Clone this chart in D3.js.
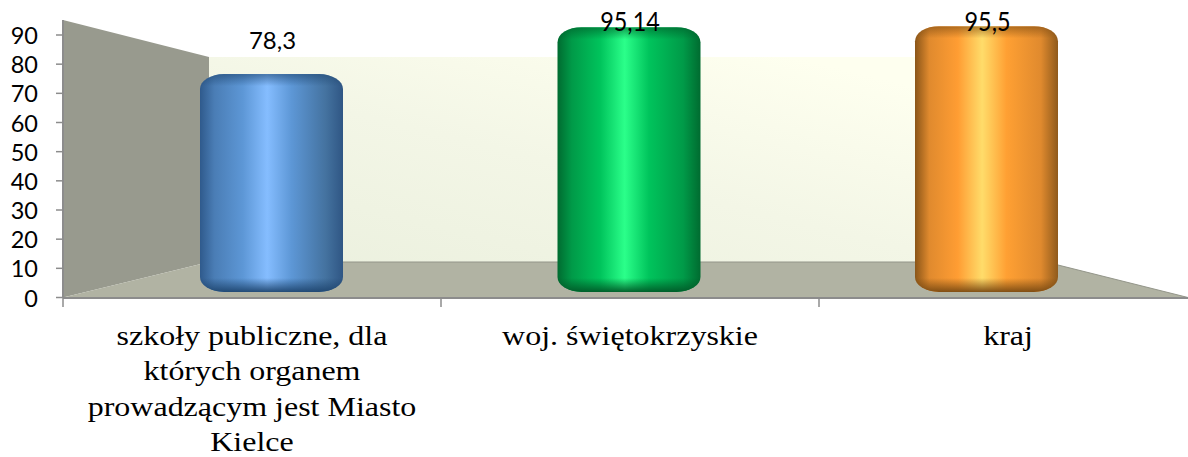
<!DOCTYPE html>
<html><head><meta charset="utf-8">
<script src="https://cdnjs.cloudflare.com/ajax/libs/d3/7.8.5/d3.min.js"></script>
<style>html,body{margin:0;background:#fff}svg{display:block}</style></head>
<body><svg id="c" width="1188" height="457"></svg>
<script>
const categories=[["szkoły publiczne, dla","których organem","prowadzącym jest Miasto","Kielce"],["woj. świętokrzyskie"],["kraj"]];
const values=[78.3,95.14,95.5];
const valueLabels=["78,3","95,14","95,5"];
const yTicks=[0,10,20,30,40,50,60,70,80,90];
const palettes=[
 ["#2f5a8c","#4a7db5","#5d97d6","#85bdff","#5d97d6","#44729f","#2f5684"],
 ["#006b30","#009a48","#00c45c","#2bff8a","#00c45c","#009a48","#006b30"],
 ["#8a5518","#e08a2e","#ff9d33","#ffdc6a","#ffa033","#e08a2e","#8f5a1c"]];
const capDark=["#1f4670","#005a28","#7a4a12"];

const svg=d3.select("#c"),defs=svg.append("defs");
const X0=63,Y0=297.5,BX=209,BT=57,BB=262,BR=1046,XR=1188,YTOP=20;
const y=d3.scaleLinear().domain([0,90]).range([Y0,35]);
const xLab=d3.scaleBand().domain(d3.range(3)).range([X0,X0+1134]);
const xBar=d3.scaleBand().domain(d3.range(3)).range([92.75,1165.25]).paddingInner(0.6).paddingOuter(0.3);
const yBar=d3.scaleLinear().domain([0,95.5]).range([292,26.2]);

const wg=defs.append("linearGradient").attr("id","wall").attr("x1",0).attr("y1",1).attr("x2",1).attr("y2",0);
wg.append("stop").attr("offset",0).attr("stop-color","#ebf0de");
wg.append("stop").attr("offset",.45).attr("stop-color","#f3f6e6");
wg.append("stop").attr("offset",.85).attr("stop-color","#feffef");
svg.append("polygon").attr("points",[[BX,BT],[BR,BT],[BR,BB],[BX,BB]].join(" ")).attr("fill","url(#wall)");
svg.append("polygon").attr("points",[[X0,YTOP],[BX,BT],[BX,BB],[X0,Y0]].join(" ")).attr("fill","#989a8e");
svg.append("polygon").attr("points",[[X0,Y0],[BX,BB],[BR,BB],[XR,Y0]].join(" ")).attr("fill","#b1b3a3");
svg.append("path").attr("d",`M${BX} ${BB}H${BR}L${XR} ${Y0}`).attr("fill","none").attr("stroke","#939589").attr("stroke-width",1);

// axes
const axY=svg.append("g");
axY.append("line").attr("x1",X0).attr("x2",X0).attr("y1",YTOP).attr("y2",Y0).attr("stroke","#8c8c8c").attr("stroke-width",2);
axY.selectAll("line.t").data(yTicks).join("line").attr("class","t").attr("x1",X0-7).attr("x2",X0).attr("y1",y).attr("y2",y).attr("stroke","#8c8c8c").attr("stroke-width",1.5);
axY.selectAll("text").data(yTicks).join("text").attr("x",38).attr("y",d=>y(d)+9).attr("text-anchor","end").attr("font-family","Lato").attr("font-size",23.5).attr("fill","#000").text(d=>d);
svg.append("line").attr("x1",X0).attr("x2",XR).attr("y1",Y0+.5).attr("y2",Y0+.5).attr("stroke","#8c8c8c").attr("stroke-width",2);
svg.selectAll("line.xt").data([0,1,2]).join("line").attr("class","xt")
  .attr("x1",d=>xLab(d)).attr("x2",d=>xLab(d)).attr("y1",Y0).attr("y2",307).attr("stroke","#8c8c8c").attr("stroke-width",1.5);

// bars
const barPath=(d,i)=>{
  const x=xBar(i),w=xBar.bandwidth(),t=yBar(d),b=yBar(0),rx=24,ry=15;
  return `M${x} ${t+ry}A${rx} ${ry} 0 0 1 ${x+rx} ${t}H${x+w-rx}A${rx} ${ry} 0 0 1 ${x+w} ${t+ry}V${b-ry}A${rx} ${ry} 0 0 1 ${x+w-rx} ${b}H${x+rx}A${rx} ${ry} 0 0 1 ${x} ${b-ry}Z`;
};
values.forEach((v,i)=>{
  const g=defs.append("linearGradient").attr("id","b"+i);
  const off=[0,.1,.3,.47,.64,.88,1];
  palettes[i].forEach((c,k)=>g.append("stop").attr("offset",off[k]).attr("stop-color",c));
  const top=defs.append("linearGradient").attr("id","capT"+i).attr("x1",0).attr("y1",0).attr("x2",0).attr("y2",1);
  top.append("stop").attr("offset",0).attr("stop-color",capDark[i]).attr("stop-opacity",.6);
  top.append("stop").attr("offset",1).attr("stop-color",capDark[i]).attr("stop-opacity",0);
  const bot=defs.append("linearGradient").attr("id","capB"+i).attr("x1",0).attr("y1",0).attr("x2",0).attr("y2",1);
  bot.append("stop").attr("offset",0).attr("stop-color",capDark[i]).attr("stop-opacity",0);
  bot.append("stop").attr("offset",1).attr("stop-color",capDark[i]).attr("stop-opacity",.95);
  defs.append("clipPath").attr("id","clip"+i).append("path").attr("d",barPath(v,i));
});
const bars=svg.selectAll("g.bar").data(values).join("g").attr("class","bar");
bars.append("path").attr("d",barPath).attr("fill",(d,i)=>`url(#b${i})`);
const caps=bars.append("g").attr("clip-path",(d,i)=>`url(#clip${i})`);
caps.append("rect").attr("x",(d,i)=>xBar(i)).attr("width",xBar.bandwidth()).attr("y",d=>yBar(d)).attr("height",12)
  .attr("fill",(d,i)=>`url(#capT${i})`);
caps.append("rect").attr("x",(d,i)=>xBar(i)).attr("width",xBar.bandwidth()).attr("y",yBar(0)-14).attr("height",14)
  .attr("fill",(d,i)=>`url(#capB${i})`);

// value labels
const labelY=[48.5,30.5,30.5],labelSize=[23.5,26,26],labelSx=[1.02,.9,.9];
svg.selectAll("text.v").data(valueLabels).join("text").attr("class","v")
  .attr("transform",(d,i)=>`translate(${xBar(i)+xBar.bandwidth()/2+1},${labelY[i]}) scale(${labelSx[i]},1)`)
  .attr("text-anchor","middle").attr("font-family","Lato").attr("font-size",(d,i)=>labelSize[i]).attr("fill","#000").text(d=>d);

// category labels
const cats=svg.selectAll("text.c").data(categories).join("text").attr("class","c")
  .attr("transform",(d,i)=>`translate(${xLab(i)+xLab.bandwidth()/2},0) scale(1.143,1)`)
  .attr("text-anchor","middle").attr("font-family","Liberation Serif").attr("font-size",28).attr("fill","#000");
cats.each(function(lines){
  d3.select(this).selectAll("tspan").data(lines).join("tspan")
    .attr("x",0).attr("y",(d,k)=>345+k*35.3).text(d=>d);
});
</script></body></html>
